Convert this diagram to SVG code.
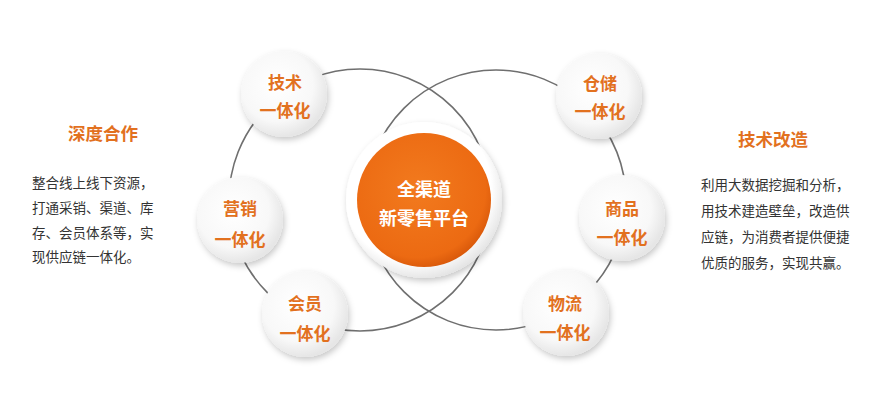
<svg xmlns="http://www.w3.org/2000/svg" width="875" height="400" viewBox="0 0 875 400">
<defs>
<style>
.ring{fill:none;stroke:#6f6f6f;stroke-width:1.6}
.node{fill:url(#ng);filter:url(#sh)}
.nt{font-family:"Noto Sans CJK SC","Noto Sans",sans-serif;font-weight:bold;font-size:17px;fill:#E2711F;text-anchor:middle;dominant-baseline:central}
.ct{font-family:"Noto Sans CJK SC","Noto Sans",sans-serif;font-weight:bold;font-size:18px;fill:#ffffff;text-anchor:middle;dominant-baseline:central}
.tt{font-family:"Noto Sans CJK SC","Noto Sans",sans-serif;font-weight:bold;font-size:17.5px;fill:#E2711F;text-anchor:middle;dominant-baseline:central}
.bt{font-family:"Noto Sans CJK SC","Noto Sans",sans-serif;font-size:13.5px;fill:#333333;dominant-baseline:central}
</style>
<radialGradient id="ng" cx="0.42" cy="0.4" r="0.6">
<stop offset="0" stop-color="#ffffff"/>
<stop offset="0.7" stop-color="#f8f8f8"/>
<stop offset="1" stop-color="#e6e6e6"/>
</radialGradient>
<radialGradient id="og" cx="0.45" cy="0.42" r="0.6">
<stop offset="0" stop-color="#F27A1E"/>
<stop offset="0.85" stop-color="#EC6A12"/>
<stop offset="1" stop-color="#D8580A"/>
</radialGradient>
<radialGradient id="wg" cx="0.45" cy="0.42" r="0.6">
<stop offset="0.8" stop-color="#ffffff"/>
<stop offset="1" stop-color="#e2e2e2"/>
</radialGradient>
<filter id="sh" x="-30%" y="-30%" width="160%" height="160%">
<feDropShadow dx="1.5" dy="3" stdDeviation="3" flood-color="#000" flood-opacity="0.22"/>
</filter>
</defs>
<rect width="875" height="400" fill="#ffffff"/>
<g id="connectors">
<circle class="ring" cx="360" cy="200" r="131"/>
<circle class="ring" cx="496" cy="200" r="130"/>
</g>
<g id="center">
<circle cx="424" cy="200" r="78" fill="url(#wg)" filter="url(#sh)"/>
<circle cx="424" cy="200" r="67" fill="url(#og)"/>
<text class="ct" x="424" y="188">全渠道</text>
<text class="ct" x="424" y="217">新零售平台</text>
</g>
<g id="n-jishu">
<circle class="node" cx="284" cy="94" r="43"/>
<text class="nt" x="285" y="81">技术</text>
<text class="nt" x="285" y="109">一体化</text>
</g>
<g id="n-yingxiao">
<circle class="node" cx="240" cy="220" r="43"/>
<text class="nt" x="240" y="207">营销</text>
<text class="nt" x="240" y="238">一体化</text>
</g>
<g id="n-huiyuan">
<circle class="node" cx="305" cy="314" r="43"/>
<text class="nt" x="305" y="302">会员</text>
<text class="nt" x="305" y="332">一体化</text>
</g>
<g id="n-cangchu">
<circle class="node" cx="599" cy="96" r="43"/>
<text class="nt" x="600" y="82">仓储</text>
<text class="nt" x="600" y="110">一体化</text>
</g>
<g id="n-shangpin">
<circle class="node" cx="622" cy="218" r="43"/>
<text class="nt" x="622" y="207">商品</text>
<text class="nt" x="622" y="236">一体化</text>
</g>
<g id="n-wuliu">
<circle class="node" cx="566" cy="313" r="43"/>
<text class="nt" x="565" y="302">物流</text>
<text class="nt" x="565" y="331">一体化</text>
</g>
<g id="left-text">
<text class="tt" x="103" y="132">深度合作</text>
<text class="bt" x="32" y="182">整合线上线下资源，</text>
<text class="bt" x="32" y="207">打通采销、渠道、库</text>
<text class="bt" x="32" y="232">存、会员体系等，实</text>
<text class="bt" x="32" y="256">现供应链一体化。</text>
</g>
<g id="right-text">
<text class="tt" x="773" y="138">技术改造</text>
<text class="bt" x="701" y="184">利用大数据挖掘和分析，</text>
<text class="bt" x="701" y="210">用技术建造壁垒，改造供</text>
<text class="bt" x="701" y="236">应链，为消费者提供便捷</text>
<text class="bt" x="701" y="262">优质的服务，实现共赢。</text>
</g>
</svg>
